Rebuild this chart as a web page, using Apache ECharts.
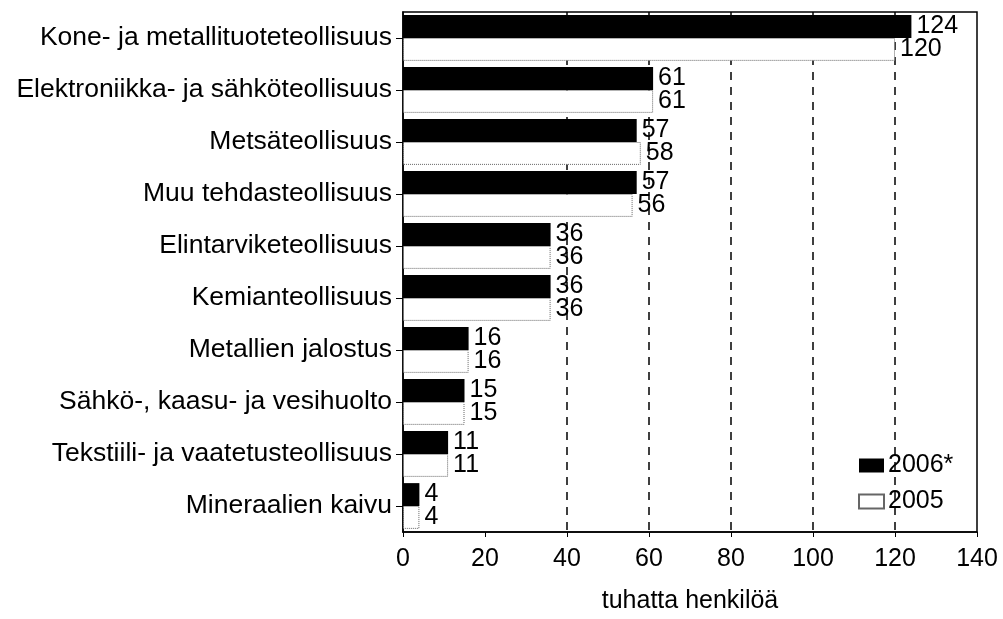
<!DOCTYPE html>
<html><head><meta charset="utf-8">
<script src="https://cdn.jsdelivr.net/npm/echarts@6/dist/echarts.min.js"></script>
<style>html,body{margin:0;padding:0;background:#fff}#c{width:1003px;height:619px}</style>
</head><body><div id="c"></div>
<script>
const categories = ["Kone- ja metallituoteteollisuus","Elektroniikka- ja sähköteollisuus","Metsäteollisuus","Muu tehdasteollisuus","Elintarviketeollisuus","Kemianteollisuus","Metallien jalostus","Sähkö-, kaasu- ja vesihuolto","Tekstiili- ja vaatetusteollisuus","Mineraalien kaivu"];
const values2006 = [124,61,57,57,36,36,16,15,11,4];
const values2005 = [120,61,58,56,36,36,16,15,11,4];
const xTicks = [0,20,40,60,80,100,120,140];

const chart = echarts.init(document.getElementById('c'));
const font = 'Liberation Sans, Arial, sans-serif';
chart.setOption({
  animation:false,
  textStyle:{fontFamily:font},
  grid:{left:403,right:26,top:12,bottom:84,show:true,borderColor:'#000',borderWidth:1.5,containLabel:false},
  legend:{orient:'vertical',left:853,top:448,itemWidth:25,itemHeight:14,itemGap:11,
    textStyle:{fontSize:25,lineHeight:25,color:'#000',fontFamily:font,padding:[0,0,0,-1]},
    data:[{name:'2006*',icon:'rect'},{name:'2005',icon:'rect'}]},
  xAxis:{type:'value',min:xTicks[0],max:xTicks[xTicks.length-1],interval:20,
    name:'tuhatta henkilöä',nameLocation:'middle',nameGap:57,
    nameTextStyle:{fontSize:25,color:'#000',fontFamily:font},
    axisLine:{show:true,lineStyle:{color:'#000',width:1.5}},
    axisTick:{show:true,length:5,lineStyle:{color:'#000'}},
    axisLabel:{fontSize:25,color:'#000',margin:15,fontFamily:font},
    splitLine:{show:true,lineStyle:{type:[8,7],width:1.5,color:['rgba(0,0,0,0)','rgba(0,0,0,0)','#000','#000','#000','#000','#000','rgba(0,0,0,0)']}}
  },
  yAxis:{type:'category',data:categories,inverse:true,
    axisLine:{show:true,lineStyle:{color:'#000',width:1.5}},
    axisTick:{show:true,alignWithLabel:true,length:7,lineStyle:{color:'#000'}},
    axisLabel:{fontSize:26.5,color:'#000',margin:11,fontFamily:font}
  },
  series:[
    {name:'2006*',type:'bar',data:values2006,barGap:'0%',barCategoryGap:'12%',
     itemStyle:{color:'#000'},
     label:{show:true,position:'right',distance:5,fontSize:25,color:'#000',fontFamily:font}},
    {name:'2005',type:'bar',data:values2005,
     itemStyle:{color:'#fff',borderColor:'#666',borderWidth:1,borderType:'dotted'},
     label:{show:true,position:'right',distance:5,fontSize:25,color:'#000',fontFamily:font}}
  ]
});
</script></body></html>
